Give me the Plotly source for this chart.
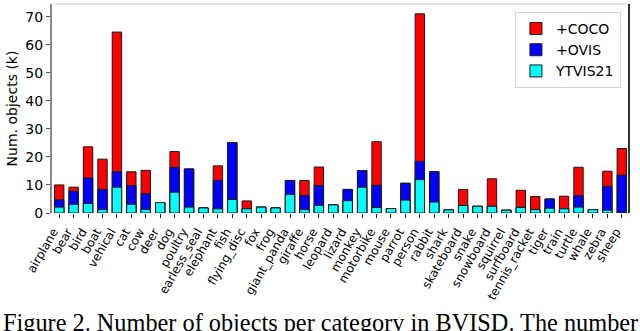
import plotly.graph_objects as go

# categories and cumulative object counts (thousands) per dataset combo
categories = [
    "airplane", "bear", "bird", "boat", "vehical", "cat", "cow", "deer", "dog",
    "poultry", "earless_seal", "elephant", "fish", "flying_disc", "fox", "frog",
    "giant_panda", "giraffe", "horse", "leopard", "lizard", "monkey", "motorbike",
    "mouse", "parrot", "person", "rabbit", "shark", "skateboard", "snake",
    "snowboard", "squirrel", "surfboard", "tennis_racket", "tiger", "train",
    "turtle", "whale", "zebra", "sheep",
]
ytvis21 = [2.1, 3.1, 3.4, 1.2, 9.2, 3.1, 1.2, 3.7, 7.4, 2.1, 1.8, 1.5, 4.8, 1.5,
           2.1, 1.8, 6.6, 1.2, 2.7, 2.9, 4.4, 9.2, 2.0, 1.6, 4.6, 11.9, 3.9, 1.1,
           2.7, 2.4, 2.4, 1.0, 2.0, 1.2, 1.7, 1.5, 2.1, 1.2, 1.0, 0.0]
plus_ovis = [4.7, 7.8, 12.5, 8.4, 14.7, 9.8, 6.9, 3.7, 16.3, 15.7, 1.8, 11.6, 25.1,
             1.5, 2.1, 1.8, 11.6, 6.2, 9.8, 2.9, 8.4, 15.1, 9.9, 1.6, 10.6, 18.4,
             14.7, 1.1, 2.7, 2.4, 2.4, 1.0, 2.0, 1.2, 5.0, 1.5, 6.2, 1.2, 9.5, 13.5]
plus_coco = [10.0, 9.2, 23.6, 19.2, 64.5, 14.7, 15.2, 3.7, 21.9, 15.7, 1.8, 16.8,
             25.1, 4.3, 2.1, 1.8, 11.6, 11.6, 16.4, 2.9, 8.4, 15.1, 25.4, 1.6, 10.6,
             71.0, 14.7, 1.1, 8.4, 2.4, 12.2, 1.0, 8.1, 5.9, 5.0, 6.0, 16.3, 1.2,
             14.9, 23.0]
yticks = [0, 10, 20, 30, 40, 50, 60, 70]
caption = "Figure 2. Number of objects per category in BVISD. The number"

series = [("+COCO", plus_coco, "#ff0000"),
          ("+OVIS", plus_ovis, "#0000ff"),
          ("YTVIS21", ytvis21, "#00ffff")]

fig = go.Figure()
for i, (name, vals, color) in enumerate(series):
    fig.add_trace(go.Bar(
        x=categories, y=vals, name=name, width=0.65, legendgroup=str(i),
        marker=dict(color=color, line=dict(color="#1a1a1a", width=1)),
    ))

fig.add_annotation(
    x=(320 - 52) / 577, xref="paper", y=-0.452, yref="paper", text=caption,
    showarrow=False, xanchor="center", yanchor="top",
    font=dict(family="Liberation Serif", size=24.3, color="black"),
)

# top and right spines
fig.add_shape(type="line", xref="paper", yref="paper", x0=0, x1=1, y0=1, y1=1,
              line=dict(color="#e6e6e6", width=2))
fig.add_shape(type="line", xref="paper", yref="paper", x0=1, x1=1, y0=0, y1=1,
              line=dict(color="#333333", width=2))

fig.update_layout(
    width=640, height=331,
    margin=dict(l=52, r=11, t=4, b=118),
    barmode="overlay",
    plot_bgcolor="white", paper_bgcolor="white",
    font=dict(family="DejaVu Sans", size=14, color="black"),
    legend=dict(
        x=0.986, y=0.962, xanchor="right", yanchor="top",
        traceorder="grouped", tracegroupgap=0, itemwidth=30,
        bgcolor="white", bordercolor="#d0d0d0", borderwidth=1,
        font=dict(size=14),
    ),
)
fig.update_xaxes(
    categoryorder="array", categoryarray=categories, range=[-0.5, 39.5],
    tickangle=-60, tickfont=dict(size=12), automargin=False,
    ticklabelshift=-6, ticklabelstandoff=2,
    ticks="outside", ticklen=4, tickcolor="#222",
    showgrid=False, zeroline=False, showline=False,
)
fig.update_yaxes(
    range=[0, 74.5], tickvals=yticks, ticks="outside", ticklen=4,
    tickcolor="#555", showgrid=False, zeroline=False, automargin=False,
    showline=True, linecolor="#888", linewidth=2,
    title=dict(text="Num. objects (k)", standoff=4, font=dict(size=14)),
    tickfont=dict(size=14),
)

# drop the browser's default body margin so the figure sits at the page corner
fig.write_html("out.html", config={"displayModeBar": False},
               post_script="document.body.style.margin='0';")
